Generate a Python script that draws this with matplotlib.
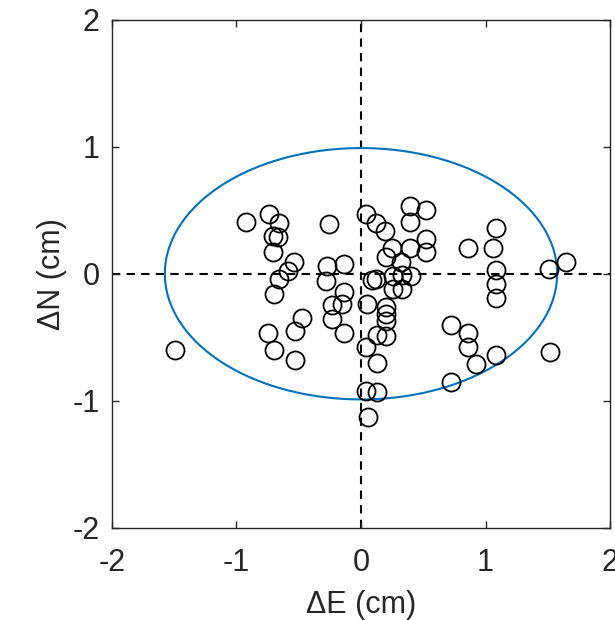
import numpy as np
import matplotlib
matplotlib.use("Agg")
import matplotlib.pyplot as plt

plt.rcParams['font.family'] = ['Liberation Sans', 'DejaVu Sans']
plt.rcParams['axes.unicode_minus'] = False

# position differences (cm)
dE = [-1.49, -0.92, -0.74, -0.66, -0.71, -0.67, -0.71, -0.54, -0.59, -0.66,
      -0.70, -0.47, -0.53, -0.75, -0.70, -0.53,
      -0.26, -0.27, -0.14, -0.28, -0.14, -0.15, -0.23, -0.23, -0.14,
      0.04, 0.12, 0.19, 0.39, 0.52, 0.39, 0.52, 0.52, 0.39, 0.25, 0.20, 0.32,
      0.26, 0.33, 0.40, 0.26, 0.33, 0.12, 0.09, 0.05, 0.20, 0.20, 0.20,
      0.20, 0.13, 0.04, 0.13, 0.04, 0.13, 0.06,
      0.86, 1.08, 1.06, 1.08, 1.08, 1.08, 0.72, 0.86, 0.86, 0.92, 1.08, 0.72,
      1.51, 1.65, 1.52]
dN = [-0.60, 0.41, 0.47, 0.40, 0.30, 0.29, 0.17, 0.09, 0.02, -0.04,
      -0.16, -0.35, -0.45, -0.47, -0.60, -0.68,
      0.39, 0.06, 0.08, -0.06, -0.14, -0.24, -0.25, -0.36, -0.47,
      0.47, 0.40, 0.34, 0.53, 0.50, 0.41, 0.27, 0.17, 0.20, 0.20, 0.13, 0.09,
      -0.02, -0.01, -0.02, -0.12, -0.12, -0.04, -0.05, -0.24, -0.26, -0.32, -0.37,
      -0.49, -0.48, -0.58, -0.70, -0.92, -0.93, -1.13,
      0.20, 0.36, 0.20, 0.03, -0.08, -0.19, -0.40, -0.47, -0.58, -0.71, -0.64, -0.85,
      0.04, 0.09, -0.62]

# error ellipse
ell_center = (0.0, 0.0)
ell_a = 1.575
ell_b = 0.99

fig = plt.figure(figsize=(6.15, 6.2), dpi=100)
ax = fig.add_axes([0.182, 0.149, 0.810, 0.819])

ax.axhline(0, color='k', linestyle='--', linewidth=1.5, dashes=(4, 3), zorder=1)
ax.axvline(0, color='k', linestyle='--', linewidth=1.5, dashes=(4, 3), zorder=1)

t = np.linspace(0, 2 * np.pi, 400)
ax.plot(ell_center[0] + ell_a * np.cos(t), ell_center[1] + ell_b * np.sin(t),
        color='#0072BD', linewidth=1.5, zorder=2)

ax.plot(dE, dN, 'o', markersize=13, markerfacecolor='none',
        markeredgecolor='k', markeredgewidth=1.3, linestyle='none', zorder=3)

ax.set_xlim(-2, 2)
ax.set_ylim(-2, 2)
ax.set_xticks([-2, -1, 0, 1, 2])
ax.set_yticks([-2, -1, 0, 1, 2])
ax.tick_params(direction='in', length=5, width=1, top=True, right=True,
               labelsize=22, colors='#262626')
ax.tick_params(axis='x', pad=15)
ax.tick_params(axis='y', pad=9)
for s in ax.spines.values():
    s.set_color('#262626')
    s.set_linewidth(1)

ax.set_xlabel('\u0394E (cm)', fontsize=22, color='#262626', labelpad=8)
ax.set_ylabel('\u0394N (cm)', fontsize=22, color='#262626', labelpad=4)

fig.savefig('out.png', dpi=100)
